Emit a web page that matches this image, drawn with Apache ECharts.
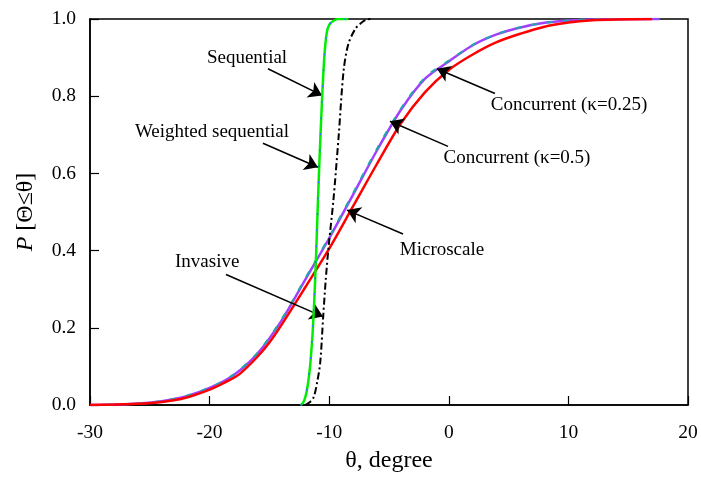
<!DOCTYPE html>
<html><head><meta charset="utf-8">
<script src="https://cdn.jsdelivr.net/npm/echarts@6/dist/echarts.min.js"></script>
<style>html,body{margin:0;padding:0;background:#fff}#c{width:701px;height:478px}</style>
</head><body><div id="c"></div>
<script>
// Data: [theta (degree), P]
const microscale = [[-30,0],[-28,0.001],[-26,0.003],[-24,0.008],[-22,0.019],[-20,0.04],[-18.5,0.062],[-17.5,0.08],[-16,0.125],[-15,0.162],[-14,0.207],[-12,0.305],[-10,0.405],[-8,0.515],[-6,0.625],[-4,0.73],[-2,0.81],[0,0.868],[2,0.908],[4,0.94],[6,0.962],[8,0.98],[10,0.991],[12,0.997],[14,0.999],[17,1.0]];
const concurrent05 = [[-30,0],[-28,0.001],[-26,0.004],[-24,0.01],[-22,0.022],[-20,0.044],[-18,0.077],[-16,0.133],[-14,0.218],[-12,0.325],[-10,0.432],[-8,0.545],[-6,0.66],[-4,0.765],[-2,0.845],[0,0.89],[2,0.932],[4,0.96],[6,0.978],[8,0.99],[10,0.996],[12,0.999],[17.6,1.0]];
const concurrent025 = [[-30,0],[-28,0.001],[-26,0.004],[-24,0.01],[-22,0.023],[-20,0.045],[-18,0.079],[-16,0.135],[-14,0.221],[-12,0.328],[-10,0.436],[-8,0.549],[-6,0.664],[-4,0.768],[-2,0.848],[0,0.892],[2,0.933],[4,0.961],[6,0.979],[8,0.99],[10,0.996],[12,0.999],[17.6,1.0]];
const sequential = [[-12.4,0],[-12.2,0.005],[-12.0,0.02],[-11.8,0.05],[-11.6,0.10],[-11.4,0.18],[-11.25,0.27],[-11.1,0.385],[-10.95,0.52],[-10.8,0.645],[-10.6,0.79],[-10.4,0.905],[-10.2,0.965],[-10.0,0.985],[-9.6,0.996],[-9.2,1.0],[-8.4,1.0]];
const weightedSequential = [[-12.4,0],[-12.2,0.005],[-12.0,0.021],[-11.8,0.052],[-11.6,0.102],[-11.4,0.182],[-11.25,0.272],[-11.1,0.388],[-10.95,0.522],[-10.8,0.648],[-10.6,0.792],[-10.4,0.906],[-10.2,0.966],[-10.0,0.986],[-9.6,0.996],[-9.2,1.0],[-8.4,1.0]];
const invasive = [[-12.0,0],[-11.9,0.002],[-11.6,0.008],[-11.3,0.02],[-11.0,0.06],[-10.75,0.11],[-10.5,0.23],[-10.3,0.32],[-10.05,0.41],[-9.65,0.53],[-9.2,0.70],[-8.8,0.865],[-8.4,0.935],[-7.8,0.975],[-7.2,0.993],[-6.8,0.999],[-6.5,1.0]];
const xTicks = [-30,-20,-10,0,10,20];
const yTicks = [0,0.2,0.4,0.6,0.8,1.0];
// Annotations: label text, label position, arrow start, arrow end
const annoText = ['Sequential','Weighted sequential','Invasive','Microscale','Concurrent (\u03ba=0.25)','Concurrent (\u03ba=0.5)'];
const annoLabelPos = [[-16.87,0.899],[-19.8,0.706],[-20.2,0.371],[-0.57,0.402],[10.05,0.776],[5.7,0.639]];
const annoFrom = [[-15.12,0.871],[-15.54,0.678],[-18.63,0.338],[-3.83,0.443],[3.86,0.807],[-0.07,0.670]];
const annoTo = [[-10.6,0.802],[-10.94,0.616],[-10.52,0.229],[-8.51,0.505],[-0.99,0.871],[-4.92,0.735]];

const FONT = '"Liberation Serif","Times New Roman",serif';
const chart = echarts.init(document.getElementById('c'), null, {renderer:'canvas'});
const markLineData = annoFrom.map((f,i)=>[{coord:f},{coord:annoTo[i]}]);
const markPointData = annoText.map((t,i)=>({coord:annoLabelPos[i], value:t}));
chart.setOption({
  animation:false,
  backgroundColor:'#fff',
  grid:{left:90,right:13,top:19,bottom:71,show:true,borderColor:'#000',borderWidth:1.5},
  xAxis:{type:'value',min:xTicks[0],max:xTicks[xTicks.length-1],interval:10,
    name:'\u03b8, degree',nameLocation:'middle',nameGap:44,
    nameTextStyle:{fontFamily:FONT,fontSize:24,color:'#000'},
    axisLine:{onZero:false,lineStyle:{color:'#000',width:1.5}},
    axisTick:{inside:true,length:9,lineStyle:{color:'#000',width:1.2}},
    axisLabel:{fontFamily:FONT,fontSize:19.5,color:'#000',margin:18},
    splitLine:{show:false}},
  yAxis:{type:'value',min:yTicks[0],max:yTicks[yTicks.length-1],interval:0.2,
    name:'{i|P} [\u0398\u2264\u03b8]',nameLocation:'middle',nameGap:52,nameRotate:90,
    nameTextStyle:{fontFamily:FONT,fontSize:24,color:'#000',rich:{i:{fontFamily:FONT,fontSize:24,fontStyle:'italic',color:'#000'}}},
    axisLine:{onZero:false,lineStyle:{color:'#000',width:1.5}},
    axisTick:{inside:true,length:9,lineStyle:{color:'#000',width:1.2}},
    axisLabel:{fontFamily:FONT,fontSize:19.5,color:'#000',margin:14,formatter:v=>v.toFixed(1)},
    splitLine:{show:false}},
  series:[
    {name:'Concurrent (κ=0.5)',type:'line',data:concurrent05,showSymbol:false,smooth:0.3,z:2,
      lineStyle:{color:'#a040ff',width:2.5}},
    {name:'Concurrent (κ=0.25)',type:'line',data:concurrent025,showSymbol:false,smooth:0.3,z:3,
      lineStyle:{color:'#20a8a8',width:2,type:[6,10]}},
    {name:'Microscale',type:'line',data:microscale,showSymbol:false,smooth:0.3,z:4,
      lineStyle:{color:'#ff0000',width:2.5}},
    {name:'Invasive',type:'line',data:invasive,showSymbol:false,smooth:0.3,z:5,
      lineStyle:{color:'#000',width:2,type:[7,3,2,3]}},
    {name:'Sequential',type:'line',data:sequential,showSymbol:false,smooth:0.3,z:6,
      lineStyle:{color:'#00ee00',width:2.5}},
    {name:'Weighted sequential',type:'line',data:weightedSequential,showSymbol:false,smooth:0.3,z:7,
      lineStyle:{color:'#3a6cff',width:1.5,type:[2,14]}},
    {name:'annotations',type:'line',data:[],z:10,
      markLine:{silent:true,symbol:['none','arrow'],symbolSize:13,animation:false,
        lineStyle:{color:'#000',width:1.5,type:'solid'},label:{show:false},data:markLineData},
      markPoint:{silent:true,symbol:'circle',symbolSize:0,animation:false,
        label:{show:true,position:'inside',color:'#000',fontFamily:FONT,fontSize:19,formatter:p=>p.value},
        data:markPointData}}
  ]
});
</script></body></html>
